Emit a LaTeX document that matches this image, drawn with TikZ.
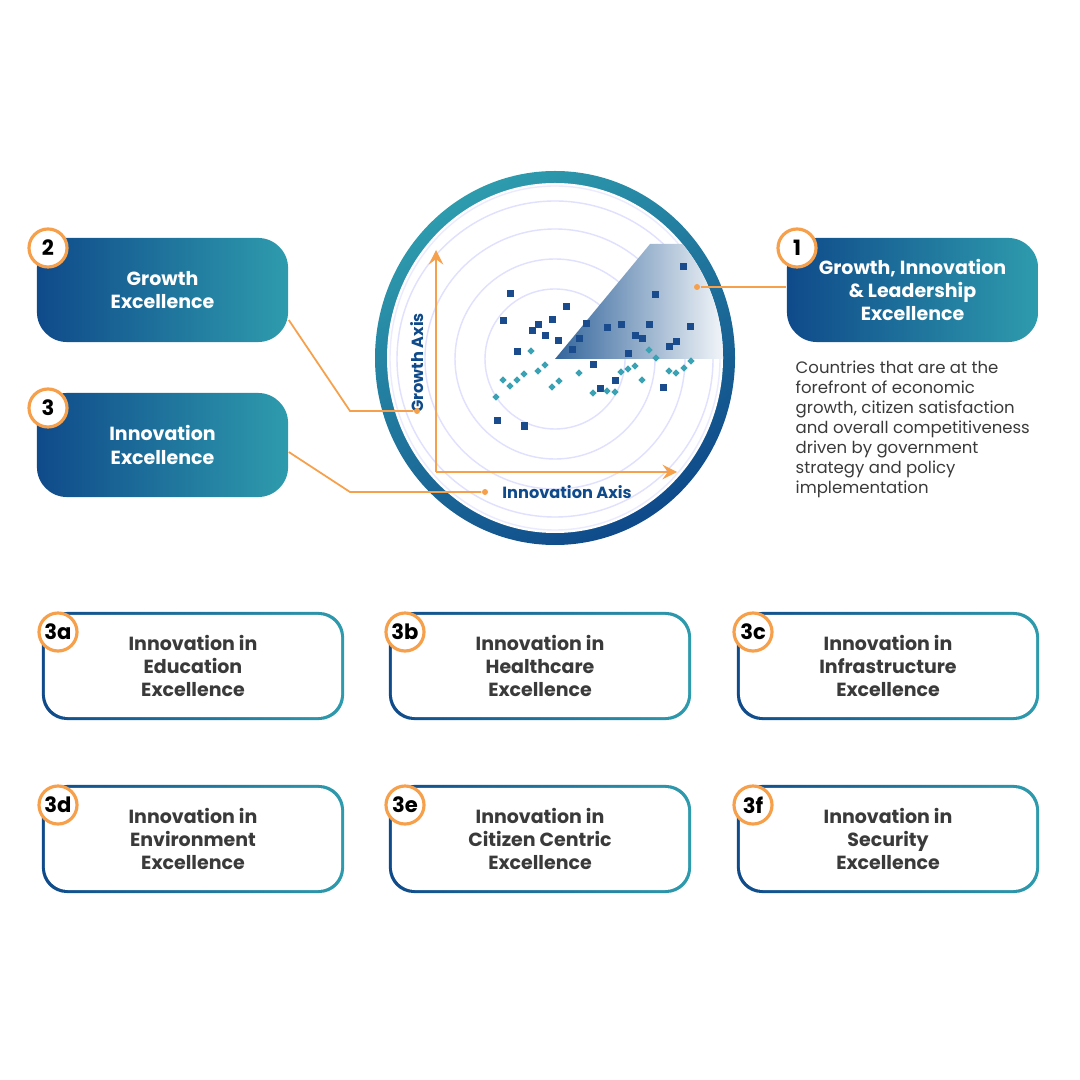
\documentclass[tikz,border=0pt]{standalone}
\usepackage{fontspec}
\setmainfont{Poppins}
\usetikzlibrary{positioning,calc}
\definecolor{dkblue}{HTML}{0F4A8A}
\definecolor{teal}{HTML}{2E9BAD}
\definecolor{ptblue}{HTML}{1A4B8C}
\definecolor{ptteal}{HTML}{3AA2B2}
\definecolor{orng}{HTML}{F7A04B}
\definecolor{txtgrey}{HTML}{3A3A3A}
\begin{document}
\begin{tikzpicture}[x=0.01cm,y=-0.01cm]

\tikzset{bluebox/.style={rounded corners=0.3cm,left color=dkblue,right color=teal,minimum width=2.51cm,minimum height=1.04cm,text=white,font=\bfseries\fontsize{5.4}{6.6}\selectfont,align=center,inner sep=0pt},
badge/.style={circle,draw=orng,line width=0.9pt,fill=white,minimum size=0.38cm,inner sep=0pt,font=\bfseries\fontsize{6}{6}\selectfont},
outbox/.style={rounded corners=0.25cm,left color=dkblue,right color=teal,minimum width=3.02cm,minimum height=1.08cm},
inbox/.style={rounded corners=0.23cm,fill=white,minimum width=2.96cm,minimum height=1.02cm,text=txtgrey,font=\bfseries\fontsize{5.4}{6.6}\selectfont,align=center,inner sep=0pt},
sq/.style={fill=ptblue,minimum size=0.07cm,inner sep=0pt},
dia/.style={fill=ptteal,minimum size=0.05cm,inner sep=0pt,rotate=45},
leader/.style={orng,line width=0.5pt},
dot/.style={circle,fill=orng,inner sep=0pt,minimum size=0.06cm}}

\useasboundingbox (0,0) rectangle (1080,1080);

% Ring and grid circles
\shade[top color=teal,bottom color=dkblue,shading angle=30] (555,358) ellipse (180 and 187);
\fill[white] (555,358) ellipse (168 and 175);
\foreach \r in {70,100,130,158} \draw[blue!12,line width=0.4pt] (555,359) circle (\r);
\draw[blue!8,line width=0.4pt] (555,358) ellipse (165 and 172);

% Wedge
\begin{scope}
\clip (555,358) ellipse (168 and 175);
\shade[left color=dkblue!85,right color=white] (555,359) -- (650,244) -- (735,244) -- (735,359) -- cycle;
\end{scope}

% Points
\foreach \x/\y in {510/294,503/321,566/307,552/320,538/325,532/331,545/336,558/341,517/352,586/324,579/339,572/350,607/328,621/325,649/325,655/295,683/267,690/327,635/336,642/339,669/347,676/342,628/354,593/365,615/381,600/389,663/388,497/421,524/426}
  \node[sq] at (\x,\y) {};
\foreach \x/\y in {531/351,503/380,510/386,517/380,524/374,538/371,545/365,496/397,552/387,559/381,579/373,593/393,607/391,615/392,621/372,628/369,635/366,642/380,649/350,656/358,669/371,676/373,684/368,691/361}
  \node[dia] at (\x,\y) {};

% Axes
\coordinate (origin) at (436,472);
\draw[orng,line width=0.8pt,->,>=stealth] (origin) -- (436,250);
\draw[orng,line width=0.8pt,->,>=stealth] (origin) -- (677,472);
\node[rotate=90,font=\bfseries\fontsize{4.6}{5}\selectfont,text=dkblue] (growthAx) at (417,363) {Growth Axis};
\node[font=\bfseries\fontsize{4.6}{5}\selectfont,text=dkblue,anchor=west] (innovAx) at (490,492) {Innovation Axis};
\node[dot] (growthDot) at (417,411) {};
\node[dot] (innovDot) at (485,492) {};
\node[dot] (wedgeDot) at (697,287) {};

% Top boxes
\node[bluebox] (growth) at (162.5,290) {Growth\\Excellence};
\node[bluebox] (innov) at (162.5,445) {Innovation\\Excellence};
\node[bluebox] (lead) at (912.5,290) {Growth, Innovation\\\& Leadership\\Excellence};
\node[badge] (b2) at (48,248) {2};
\node[badge] (b3) at (48,408) {3};
\node[badge] (b1) at (797,248) {1};

% Leaders
\draw[leader] (growth.east|-0,320) -- (350,411) -- (growthDot);
\draw[leader] (innov.east|-0,452) -- (350,492) -- (innovDot);
\draw[leader] (wedgeDot) -- (lead.west|-wedgeDot);

% Description
\node[anchor=north west,text=txtgrey,font=\fontsize{4.7}{5.7}\selectfont,align=left,inner sep=0pt] (desc) at (795,360)
  {Countries that are at the\\forefront of economic\\growth, citizen satisfaction\\and overall competitiveness\\driven by government\\strategy and policy\\implementation};

% Bottom boxes
\foreach \cx/\cy/\lab/\txt in {193/666/3a/{Innovation in\\Education\\Excellence},540/666/3b/{Innovation in\\Healthcare\\Excellence},888/666/3c/{Innovation in\\Infrastructure\\Excellence},193/839/3d/{Innovation in\\Environment\\Excellence},540/839/3e/{Innovation in\\Citizen Centric\\Excellence},888/839/3f/{Innovation in\\Security\\Excellence}}{
  \node[outbox] (o\lab) at (\cx,\cy) {};
  \node[inbox] (i\lab) at (\cx,\cy) {\txt};
  \node[badge] (b\lab) at ($(\cx,\cy)+(-135,-34)$) {\lab};
}

\end{tikzpicture}
\end{document}
